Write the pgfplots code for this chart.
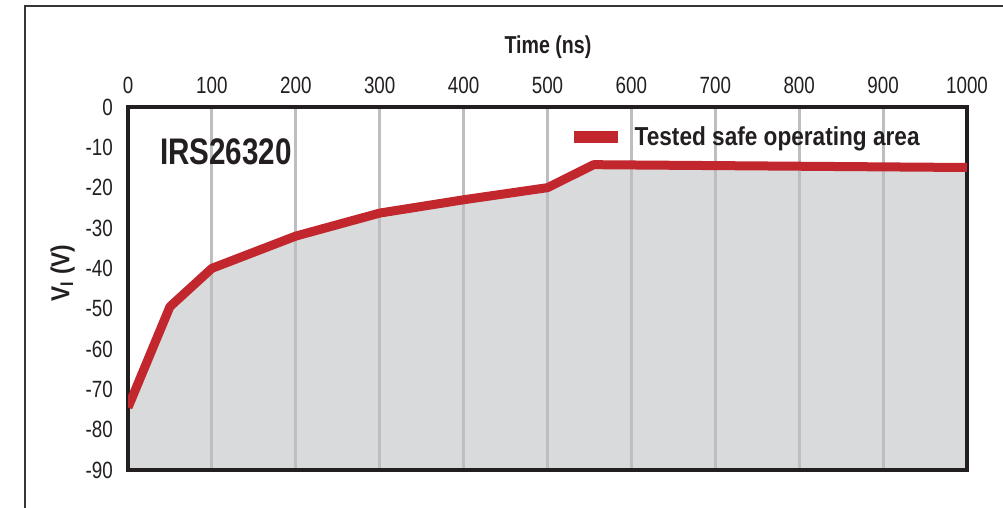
\documentclass[border=0pt]{standalone}
\usepackage{pgfplots}
\pgfplotsset{compat=1.18}
\usepackage{fontspec}
\setmainfont[FakeStretch=0.8]{Liberation Sans}
\newfontfamily\widefont[FakeStretch=0.87]{Liberation Sans}
\definecolor{myred}{HTML}{C1272D}
\definecolor{myfill}{HTML}{D9DADC}
\definecolor{mygrid}{HTML}{BCBEC0}
\definecolor{myblack}{HTML}{231F20}
\begin{document}
\begin{tikzpicture}
\begin{axis}[
  set layers,
  at={(128pt,38pt)}, anchor=south west,
  scale only axis, width=839pt, height=363pt,
  xmin=0, xmax=1000, ymin=-90, ymax=0,
  xtick={0,100,...,1000},
  ytick={-90,-80,...,0},
  yticklabels={-90,-80,-70,-60,-50,-40,-30,-20,-10,0},
  xticklabels={0,100,200,300,400,500,600,700,800,900,1000},
  xticklabel pos=upper,
  major tick length=0pt,
  xmajorgrids,
  grid style={line width=3pt, color=mygrid},
  axis line style={line width=4.5pt, color=myblack},
  tick label style={font=\fontsize{23.5}{23.5}\selectfont, color=myblack},
  xticklabel style={anchor=south, inner sep=0pt, yshift=13pt},
  yticklabel style={anchor=east, inner sep=0pt, xshift=-15pt},
  xlabel={Time (ns)},
  xlabel style={at={(axis description cs:0.5006,1.165)}, anchor=center, font=\bfseries\fontsize{24.5}{24.5}\selectfont, color=myblack},
  ylabel={V\textsubscript{I} (V)},
  ylabel style={at={(axis description cs:-0.078,0.543)}, anchor=center, font=\widefont\bfseries\fontsize{26}{26}\selectfont, color=myblack},
  legend style={at={(axis description cs:0.5244,0.917)}, anchor=west, draw=none, fill=none, inner sep=0pt,
    nodes={inner sep=0pt}, column sep=11pt,
    font=\widefont\bfseries\fontsize{26}{26}\selectfont, text=myblack},
  legend image code/.code={\draw[line width=11.5pt, color=myred] (0pt,0pt) -- (44pt,0pt);},
]
\addplot[on layer=axis background, fill=myfill, draw=none, forget plot] coordinates {
 (0,-74.5) (50,-49.5) (100,-40) (200,-32) (300,-26.3) (400,-23) (500,-20) (555,-14.3) (1000,-15) (1000,-90) (0,-90)} -- cycle;
\addplot[color=myred, line width=9pt, line join=round] coordinates {
 (0,-74.5) (50,-49.5) (100,-40) (200,-32) (300,-26.3) (400,-23) (500,-20) (555,-14.3) (1000,-15)};
\addlegendentry{Tested safe operating area}
\node[anchor=west, inner sep=0pt, font=\bfseries\fontsize{37}{37}\selectfont, text=myblack] at (rel axis cs:0.038,0.876) {IRS26320};
\end{axis}
\draw[line width=1.5pt, color=myblack!90] (25pt,-5pt) -- (25pt,502pt) -- (1010pt,502pt);
\pgfresetboundingbox
\useasboundingbox (0pt,0pt) rectangle (1003pt,508pt);
\end{tikzpicture}
\end{document}
